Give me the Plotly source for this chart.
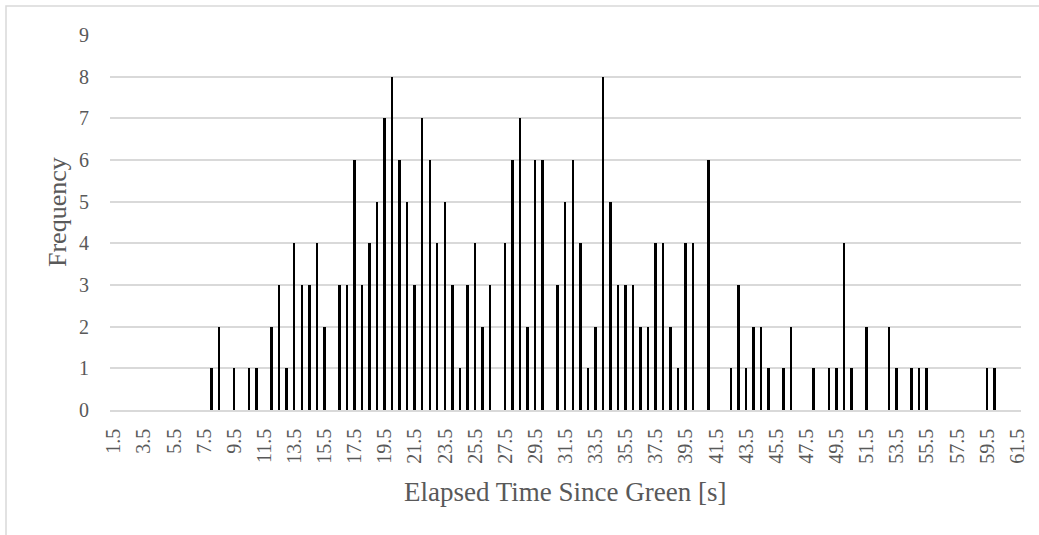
import plotly.graph_objects as go

# Bin centres (elapsed time since green, seconds)
bin_centers = [
    1.5, 2.0, 2.5, 3.0, 3.5, 4.0, 4.5, 5.0, 5.5, 6.0, 6.5, 7.0, 7.5, 8.0, 8.5, 9.0,
    9.5, 10.0, 10.5, 11.0, 11.5, 12.0, 12.5, 13.0, 13.5, 14.0, 14.5, 15.0, 15.5, 16.0,
    16.5, 17.0, 17.5, 18.0, 18.5, 19.0, 19.5, 20.0, 20.5, 21.0, 21.5, 22.0, 22.5, 23.0,
    23.5, 24.0, 24.5, 25.0, 25.5, 26.0, 26.5, 27.0, 27.5, 28.0, 28.5, 29.0, 29.5, 30.0,
    30.5, 31.0, 31.5, 32.0, 32.5, 33.0, 33.5, 34.0, 34.5, 35.0, 35.5, 36.0, 36.5, 37.0,
    37.5, 38.0, 38.5, 39.0, 39.5, 40.0, 40.5, 41.0, 41.5, 42.0, 42.5, 43.0, 43.5, 44.0,
    44.5, 45.0, 45.5, 46.0, 46.5, 47.0, 47.5, 48.0, 48.5, 49.0, 49.5, 50.0, 50.5, 51.0,
    51.5, 52.0, 52.5, 53.0, 53.5, 54.0, 54.5, 55.0, 55.5, 56.0, 56.5, 57.0, 57.5, 58.0,
    58.5, 59.0, 59.5, 60.0, 60.5, 61.0, 61.5,
]

# Frequency per bin
frequency = [
    0, 0, 0, 0, 0, 0, 0, 0, 0, 0, 0, 0, 0, 1, 2, 0,
    1, 0, 1, 1, 0, 2, 3, 1, 4, 3, 3, 4, 2, 0,
    3, 3, 6, 3, 4, 5, 7, 8, 6, 5, 3, 7, 6, 4,
    5, 3, 1, 3, 4, 2, 3, 0, 4, 6, 7, 2, 6, 6,
    0, 3, 5, 6, 4, 1, 2, 8, 5, 3, 3, 3, 2, 2,
    4, 4, 2, 1, 4, 4, 0, 6, 0, 0, 1, 3, 1, 2,
    2, 1, 0, 1, 2, 0, 0, 1, 0, 1, 1, 4, 1, 0,
    2, 0, 0, 2, 1, 0, 1, 1, 1, 0, 0, 0, 0, 0,
    0, 0, 1, 1, 0, 0, 0,
]

tick_values = [1.5, 3.5, 5.5, 7.5, 9.5, 11.5, 13.5, 15.5, 17.5, 19.5, 21.5, 23.5, 25.5,
               27.5, 29.5, 31.5, 33.5, 35.5, 37.5, 39.5, 41.5, 43.5, 45.5, 47.5, 49.5,
               51.5, 53.5, 55.5, 57.5, 59.5, 61.5]
tick_labels = ["1.5", "3.5", "5.5", "7.5", "9.5", "11.5", "13.5", "15.5", "17.5", "19.5",
               "21.5", "23.5", "25.5", "27.5", "29.5", "31.5", "33.5", "35.5", "37.5",
               "39.5", "41.5", "43.5", "45.5", "47.5", "49.5", "51.5", "53.5", "55.5",
               "57.5", "59.5", "61.5"]
y_ticks = [0, 1, 2, 3, 4, 5, 6, 7, 8, 9]

FONT = "Liberation Serif, Times New Roman, serif"
GRID = "#d9d9d9"
TXT = "#595959"

W, H = 1039, 535
ML, MR, MT, MB = 110, 18, 35, 125
PW = W - ML - MR
PH = H - MT - MB


def px_x(p):
    return (p - ML) / PW


def px_y(p):
    return (H - MB - p) / PH


fig = go.Figure(
    go.Bar(
        x=bin_centers,
        y=frequency,
        width=0.13,
        marker=dict(color="#000000", line=dict(width=0)),
        hoverinfo="x+y",
    )
)

fig.update_layout(
    width=W,
    height=H,
    margin=dict(l=ML, r=MR, t=MT, b=MB, autoexpand=False),
    paper_bgcolor="white",
    plot_bgcolor="white",
    showlegend=False,
    font=dict(family=FONT, color=TXT, size=20),
    bargap=0,
    xaxis=dict(
        range=[1.25, 61.75],
        tickmode="array",
        tickvals=tick_values,
        ticktext=tick_labels,
        tickangle=-90,
        ticks="",
        showgrid=False,
        showline=True,
        linecolor=GRID,
        linewidth=1.5,
        zeroline=False,
        tickfont=dict(family=FONT, size=20, color=TXT),
        ticklabelstandoff=9,
        fixedrange=True,
    ),
    yaxis=dict(
        range=[0, 9],
        tickmode="array",
        tickvals=y_ticks,
        ticks="",
        showgrid=True,
        gridcolor=GRID,
        gridwidth=1.5,
        zeroline=False,
        showline=False,
        tickfont=dict(family=FONT, size=20, color=TXT),
        ticklabelstandoff=20,
        fixedrange=True,
    ),
    annotations=[
        dict(
            text="Frequency",
            xref="paper", yref="paper",
            x=px_x(57), y=px_y(212),
            xanchor="center", yanchor="middle",
            textangle=-90, showarrow=False,
            font=dict(family=FONT, size=26, color=TXT),
        ),
        dict(
            text="Elapsed Time Since Green [s]",
            xref="paper", yref="paper",
            x=px_x(565), y=px_y(492),
            xanchor="center", yanchor="middle",
            showarrow=False,
            font=dict(family=FONT, size=27, color=TXT),
        ),
    ],
    shapes=[
        dict(
            type="rect", xref="paper", yref="paper",
            x0=px_x(6), x1=px_x(1050), y0=px_y(550), y1=px_y(6),
            line=dict(color=GRID, width=1.5), fillcolor="rgba(0,0,0,0)",
            layer="below",
        )
    ],
)

fig.write_html(
    "out.html",
    config={"displayModeBar": False},
    post_script="document.body.style.margin='0px';document.body.style.overflow='hidden';",
)
